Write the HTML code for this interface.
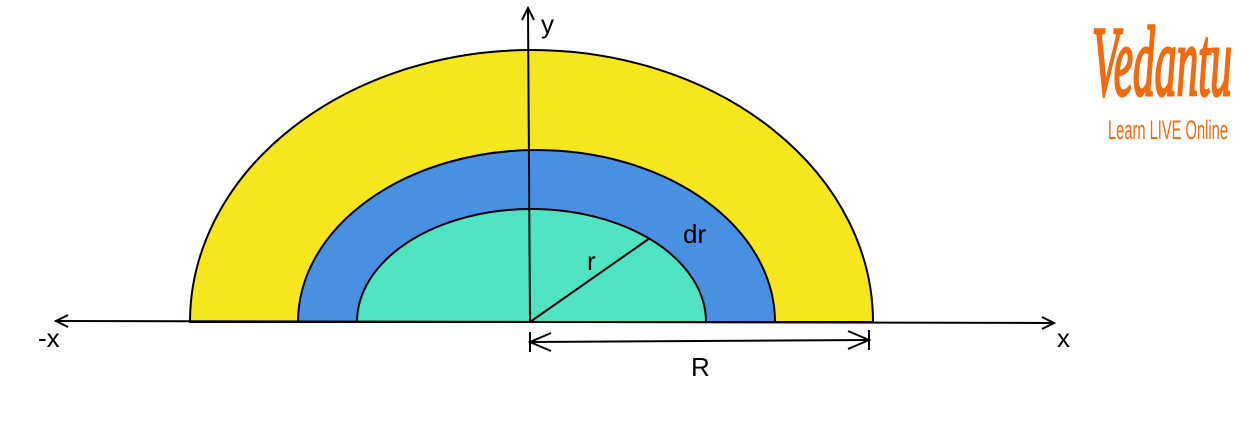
<!DOCTYPE html>
<html><head><style>body{margin:0;background:#fff}svg{display:block}</style></head><body>
<svg width="1252" height="437" xmlns="http://www.w3.org/2000/svg" font-family="Liberation Sans, sans-serif">
<path d="M190,322 A341.5,272 0 0 1 873,322 Z" fill="#f6e61e" stroke="#000" stroke-width="2"/>
<path d="M298,322 A238.5,172 0 0 1 775,322 Z" fill="#4a90e2" stroke="#000" stroke-width="2"/>
<path d="M357,322 A174.5,113 0 0 1 706,322 Z" fill="#50e3c2" stroke="#000" stroke-width="2"/>
<g stroke="#000" stroke-width="2" fill="none">
<line x1="55" y1="321" x2="1055" y2="323"/>
<polyline points="68,315 56,321 68,327"/>
<polyline points="1042,317 1054,323 1042,329"/>
<line x1="530" y1="322" x2="528" y2="8"/>
<polyline points="522,20 528,8 534,20"/>
<line x1="530" y1="322" x2="650" y2="238"/>
<line x1="530" y1="332" x2="530" y2="352"/>
<line x1="869" y1="330" x2="869" y2="350"/>
<line x1="530" y1="342" x2="869" y2="340"/>
<polyline points="551,333 530,342 551,351"/>
<polyline points="848,331 869,340 848,349"/>
</g>
<g font-size="26" fill="#000">
<text x="541" y="33">y</text>
<text x="38" y="347">-x</text>
<text x="1057" y="347">x</text>
<text x="587" y="270">r</text>
<text x="683" y="243">dr</text>
<text x="691" y="376">R</text>
</g>
<text x="1092" y="95" font-size="100" font-family="Liberation Serif, serif" font-style="italic" fill="#f26a10" stroke="#f26a10" stroke-width="3" textLength="140" lengthAdjust="spacingAndGlyphs">Vedantu</text>
<text x="1108" y="139" font-size="27" fill="#f26a10" textLength="120" lengthAdjust="spacingAndGlyphs">Learn LIVE Online</text>
</svg>
</body></html>
